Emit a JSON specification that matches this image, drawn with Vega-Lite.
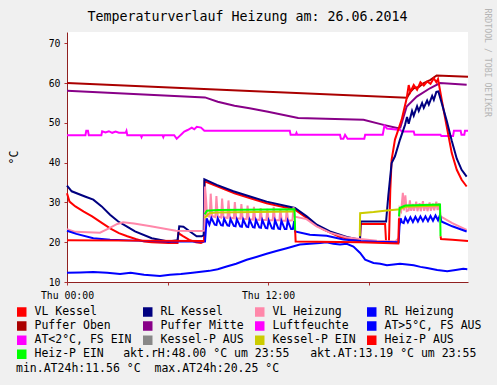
{
"$schema":"https://vega.github.io/schema/vega-lite/v6.json",
"width":401,"height":250,
"autosize":{"type":"none"},
"padding":{"left":67,"top":32,"right":29,"bottom":103},
"background":"#f0f0f0",
"title":{"text":"Temperaturverlauf Heizung am: 26.06.2014","font":"DejaVu Sans Mono","fontSize":13.3,"fontWeight":"normal","color":"#000000","anchor":"middle","frame":"group","dx":-20,"offset":-15},
"config":{"view":{"fill":"white","stroke":null},"line":{"strokeWidth":2}},
"data":{"values":[
{"s":"AT>5°C, FS AUS","g":"1","h":0,"v":12.3},{"s":"AT>5°C, FS AUS","g":"1","h":0.8,"v":12.4},{"s":"AT>5°C, FS AUS","g":"1","h":1.57,"v":12.5},{"s":"AT>5°C, FS AUS","g":"1","h":2.4,"v":12.3},{"s":"AT>5°C, FS AUS","g":"1","h":3.17,"v":12.0},{"s":"AT>5°C, FS AUS","g":"1","h":3.8,"v":12.3},{"s":"AT>5°C, FS AUS","g":"1","h":4.6,"v":11.8},{"s":"AT>5°C, FS AUS","g":"1","h":5.55,"v":11.5},{"s":"AT>5°C, FS AUS","g":"1","h":6.15,"v":11.8},{"s":"AT>5°C, FS AUS","g":"1","h":6.8,"v":12.0},{"s":"AT>5°C, FS AUS","g":"1","h":7.5,"v":12.3},{"s":"AT>5°C, FS AUS","g":"1","h":8.5,"v":12.8},{"s":"AT>5°C, FS AUS","g":"1","h":9.0,"v":13.2},{"s":"AT>5°C, FS AUS","g":"1","h":9.53,"v":13.9},{"s":"AT>5°C, FS AUS","g":"1","h":10.1,"v":14.6},{"s":"AT>5°C, FS AUS","g":"1","h":10.73,"v":15.6},{"s":"AT>5°C, FS AUS","g":"1","h":11.3,"v":16.3},{"s":"AT>5°C, FS AUS","g":"1","h":11.92,"v":17.1},{"s":"AT>5°C, FS AUS","g":"1","h":12.5,"v":17.8},{"s":"AT>5°C, FS AUS","g":"1","h":13.12,"v":18.5},{"s":"AT>5°C, FS AUS","g":"1","h":13.9,"v":19.4},{"s":"AT>5°C, FS AUS","g":"1","h":14.5,"v":19.6},{"s":"AT>5°C, FS AUS","g":"1","h":15.1,"v":19.8},{"s":"AT>5°C, FS AUS","g":"1","h":15.5,"v":20.0},{"s":"AT>5°C, FS AUS","g":"1","h":15.9,"v":19.6},{"s":"AT>5°C, FS AUS","g":"1","h":16.3,"v":19.4},{"s":"AT>5°C, FS AUS","g":"1","h":16.7,"v":19.6},{"s":"AT>5°C, FS AUS","g":"1","h":17.1,"v":18.9},{"s":"AT>5°C, FS AUS","g":"1","h":17.5,"v":17.3},{"s":"AT>5°C, FS AUS","g":"1","h":17.8,"v":15.6},{"s":"AT>5°C, FS AUS","g":"1","h":18.3,"v":14.8},{"s":"AT>5°C, FS AUS","g":"1","h":18.7,"v":14.6},{"s":"AT>5°C, FS AUS","g":"1","h":19.1,"v":14.2},{"s":"AT>5°C, FS AUS","g":"1","h":19.5,"v":14.4},{"s":"AT>5°C, FS AUS","g":"1","h":19.88,"v":14.6},{"s":"AT>5°C, FS AUS","g":"1","h":20.3,"v":14.4},{"s":"AT>5°C, FS AUS","g":"1","h":20.7,"v":14.2},{"s":"AT>5°C, FS AUS","g":"1","h":21.1,"v":13.8},{"s":"AT>5°C, FS AUS","g":"1","h":21.5,"v":13.5},{"s":"AT>5°C, FS AUS","g":"1","h":22.1,"v":13.0},{"s":"AT>5°C, FS AUS","g":"1","h":22.7,"v":12.7},{"s":"AT>5°C, FS AUS","g":"1","h":23.2,"v":13.0},{"s":"AT>5°C, FS AUS","g":"1","h":23.66,"v":13.3},{"s":"AT>5°C, FS AUS","g":"1","h":23.9,"v":13.2},

{"s":"Puffer Oben","g":"1","h":0,"v":60.0},{"s":"Puffer Oben","g":"1","h":10.9,"v":58.0},{"s":"Puffer Oben","g":"1","h":20.3,"v":56.3},{"s":"Puffer Oben","g":"1","h":20.5,"v":57.8},{"s":"Puffer Oben","g":"1","h":20.7,"v":58.7},{"s":"Puffer Oben","g":"1","h":21.0,"v":59.0},{"s":"Puffer Oben","g":"1","h":21.3,"v":60.0},{"s":"Puffer Oben","g":"1","h":21.7,"v":60.8},{"s":"Puffer Oben","g":"1","h":22.07,"v":61.9},{"s":"Puffer Oben","g":"1","h":23.94,"v":61.6},

{"s":"Puffer Mitte","g":"1","h":0,"v":58.1},{"s":"Puffer Mitte","g":"1","h":8.24,"v":56.4},{"s":"Puffer Mitte","g":"1","h":9.0,"v":55.3},{"s":"Puffer Mitte","g":"1","h":10.0,"v":54.3},{"s":"Puffer Mitte","g":"1","h":10.9,"v":53.7},{"s":"Puffer Mitte","g":"1","h":12.0,"v":52.8},{"s":"Puffer Mitte","g":"1","h":13.8,"v":51.2},{"s":"Puffer Mitte","g":"1","h":16.0,"v":51.0},{"s":"Puffer Mitte","g":"1","h":17.7,"v":50.8},{"s":"Puffer Mitte","g":"1","h":18.9,"v":49.5},{"s":"Puffer Mitte","g":"1","h":19.7,"v":48.7},{"s":"Puffer Mitte","g":"1","h":19.9,"v":48.8},{"s":"Puffer Mitte","g":"1","h":20.28,"v":54.1},{"s":"Puffer Mitte","g":"1","h":20.88,"v":56.6},{"s":"Puffer Mitte","g":"1","h":21.67,"v":58.7},{"s":"Puffer Mitte","g":"1","h":22.27,"v":60.0},{"s":"Puffer Mitte","g":"1","h":23.86,"v":59.6},

{"s":"Luftfeuchte","g":"1","h":0,"v":46.9},{"s":"Luftfeuchte","g":"1","h":1.1,"v":46.9},{"s":"Luftfeuchte","g":"1","h":1.15,"v":48.0},{"s":"Luftfeuchte","g":"1","h":1.25,"v":48.0},{"s":"Luftfeuchte","g":"1","h":1.3,"v":46.9},{"s":"Luftfeuchte","g":"1","h":2.05,"v":46.9},{"s":"Luftfeuchte","g":"1","h":2.1,"v":47.9},{"s":"Luftfeuchte","g":"1","h":2.3,"v":47.6},{"s":"Luftfeuchte","g":"1","h":2.5,"v":47.9},{"s":"Luftfeuchte","g":"1","h":2.7,"v":47.5},{"s":"Luftfeuchte","g":"1","h":2.9,"v":47.8},{"s":"Luftfeuchte","g":"1","h":3.1,"v":47.5},{"s":"Luftfeuchte","g":"1","h":3.5,"v":47.5},{"s":"Luftfeuchte","g":"1","h":3.55,"v":48.0},{"s":"Luftfeuchte","g":"1","h":3.6,"v":46.9},{"s":"Luftfeuchte","g":"1","h":4.4,"v":46.9},{"s":"Luftfeuchte","g":"1","h":4.45,"v":46.4},{"s":"Luftfeuchte","g":"1","h":4.5,"v":46.9},{"s":"Luftfeuchte","g":"1","h":5.7,"v":46.9},{"s":"Luftfeuchte","g":"1","h":5.75,"v":46.4},{"s":"Luftfeuchte","g":"1","h":5.8,"v":46.9},{"s":"Luftfeuchte","g":"1","h":6.4,"v":46.9},{"s":"Luftfeuchte","g":"1","h":6.55,"v":46.0},{"s":"Luftfeuchte","g":"1","h":6.7,"v":46.6},{"s":"Luftfeuchte","g":"1","h":6.85,"v":47.2},{"s":"Luftfeuchte","g":"1","h":7.0,"v":47.8},{"s":"Luftfeuchte","g":"1","h":7.2,"v":48.2},{"s":"Luftfeuchte","g":"1","h":7.45,"v":48.8},{"s":"Luftfeuchte","g":"1","h":7.6,"v":48.4},{"s":"Luftfeuchte","g":"1","h":7.75,"v":49.0},{"s":"Luftfeuchte","g":"1","h":8.0,"v":48.8},{"s":"Luftfeuchte","g":"1","h":8.2,"v":48.0},{"s":"Luftfeuchte","g":"1","h":13.3,"v":48.0},{"s":"Luftfeuchte","g":"1","h":13.35,"v":47.0},{"s":"Luftfeuchte","g":"1","h":13.65,"v":47.0},{"s":"Luftfeuchte","g":"1","h":13.7,"v":47.5},{"s":"Luftfeuchte","g":"1","h":13.75,"v":47.0},{"s":"Luftfeuchte","g":"1","h":16.3,"v":47.0},{"s":"Luftfeuchte","g":"1","h":16.35,"v":46.0},{"s":"Luftfeuchte","g":"1","h":16.5,"v":46.0},{"s":"Luftfeuchte","g":"1","h":16.6,"v":47.0},{"s":"Luftfeuchte","g":"1","h":16.75,"v":46.0},{"s":"Luftfeuchte","g":"1","h":17.75,"v":46.0},{"s":"Luftfeuchte","g":"1","h":17.8,"v":47.0},{"s":"Luftfeuchte","g":"1","h":18.85,"v":47.0},{"s":"Luftfeuchte","g":"1","h":18.95,"v":49.3},{"s":"Luftfeuchte","g":"1","h":19.1,"v":48.6},{"s":"Luftfeuchte","g":"1","h":19.9,"v":48.2},{"s":"Luftfeuchte","g":"1","h":20.0,"v":47.8},{"s":"Luftfeuchte","g":"1","h":20.7,"v":47.8},{"s":"Luftfeuchte","g":"1","h":20.75,"v":47.0},{"s":"Luftfeuchte","g":"1","h":22.3,"v":47.0},{"s":"Luftfeuchte","g":"1","h":22.35,"v":46.7},{"s":"Luftfeuchte","g":"1","h":23.05,"v":46.7},{"s":"Luftfeuchte","g":"1","h":23.1,"v":48.0},{"s":"Luftfeuchte","g":"1","h":23.5,"v":48.0},{"s":"Luftfeuchte","g":"1","h":23.55,"v":47.0},{"s":"Luftfeuchte","g":"1","h":23.72,"v":47.0},{"s":"Luftfeuchte","g":"1","h":23.76,"v":48.0},{"s":"Luftfeuchte","g":"1","h":23.94,"v":48.0},

{"s":"VL Kessel","g":"1","h":0,"v":32.3},{"s":"VL Kessel","g":"1","h":0.15,"v":30.2},{"s":"VL Kessel","g":"1","h":0.5,"v":29.0},{"s":"VL Kessel","g":"1","h":1.0,"v":27.7},{"s":"VL Kessel","g":"1","h":1.5,"v":26.5},{"s":"VL Kessel","g":"1","h":2.1,"v":24.8},{"s":"VL Kessel","g":"1","h":2.6,"v":23.4},{"s":"VL Kessel","g":"1","h":3.1,"v":22.3},{"s":"VL Kessel","g":"1","h":3.6,"v":21.5},{"s":"VL Kessel","g":"1","h":4.1,"v":20.8},{"s":"VL Kessel","g":"1","h":4.6,"v":20.2},{"s":"VL Kessel","g":"1","h":5.05,"v":20.0},{"s":"VL Kessel","g":"1","h":6.05,"v":19.8},{"s":"VL Kessel","g":"1","h":6.6,"v":19.8},{"s":"VL Kessel","g":"1","h":6.65,"v":22.3},{"s":"VL Kessel","g":"1","h":6.9,"v":21.6},{"s":"VL Kessel","g":"1","h":7.3,"v":20.6},{"s":"VL Kessel","g":"1","h":7.7,"v":20.0},{"s":"VL Kessel","g":"1","h":8.0,"v":19.8},{"s":"VL Kessel","g":"1","h":8.18,"v":20.2},{"s":"VL Kessel","g":"1","h":8.22,"v":35.3},{"s":"VL Kessel","g":"1","h":9.0,"v":34.0},{"s":"VL Kessel","g":"1","h":10.0,"v":32.3},{"s":"VL Kessel","g":"1","h":10.9,"v":31.1},{"s":"VL Kessel","g":"1","h":11.92,"v":29.8},{"s":"VL Kessel","g":"1","h":13.61,"v":28.2},{"s":"VL Kessel","g":"1","h":14.31,"v":26.1},{"s":"VL Kessel","g":"1","h":15.3,"v":23.2},{"s":"VL Kessel","g":"1","h":16.3,"v":21.3},{"s":"VL Kessel","g":"1","h":17.49,"v":20.2},{"s":"VL Kessel","g":"1","h":17.53,"v":24.6},{"s":"VL Kessel","g":"1","h":18.99,"v":24.6},{"s":"VL Kessel","g":"1","h":19.05,"v":20.0},{"s":"VL Kessel","g":"1","h":19.22,"v":20.0},{"s":"VL Kessel","g":"1","h":19.3,"v":33.0},{"s":"VL Kessel","g":"1","h":19.38,"v":40.7},{"s":"VL Kessel","g":"1","h":19.58,"v":45.8},{"s":"VL Kessel","g":"1","h":19.78,"v":48.3},{"s":"VL Kessel","g":"1","h":19.98,"v":50.8},{"s":"VL Kessel","g":"1","h":20.28,"v":56.2},{"s":"VL Kessel","g":"1","h":20.4,"v":59.5},{"s":"VL Kessel","g":"1","h":20.5,"v":57.8},{"s":"VL Kessel","g":"1","h":20.7,"v":59.5},{"s":"VL Kessel","g":"1","h":20.9,"v":58.3},{"s":"VL Kessel","g":"1","h":21.1,"v":60.2},{"s":"VL Kessel","g":"1","h":21.3,"v":59.4},{"s":"VL Kessel","g":"1","h":21.5,"v":60.4},{"s":"VL Kessel","g":"1","h":21.7,"v":59.8},{"s":"VL Kessel","g":"1","h":21.9,"v":61.2},{"s":"VL Kessel","g":"1","h":22.05,"v":60.2},{"s":"VL Kessel","g":"1","h":22.15,"v":61.0},{"s":"VL Kessel","g":"1","h":22.37,"v":55.8},{"s":"VL Kessel","g":"1","h":22.67,"v":49.1},{"s":"VL Kessel","g":"1","h":22.97,"v":42.4},{"s":"VL Kessel","g":"1","h":23.27,"v":38.2},{"s":"VL Kessel","g":"1","h":23.56,"v":35.7},{"s":"VL Kessel","g":"1","h":23.86,"v":34.0},

{"s":"RL Kessel","g":"1","h":0,"v":34.2},{"s":"RL Kessel","g":"1","h":0.28,"v":32.8},{"s":"RL Kessel","g":"1","h":1.07,"v":31.5},{"s":"RL Kessel","g":"1","h":1.57,"v":30.7},{"s":"RL Kessel","g":"1","h":2.07,"v":29.0},{"s":"RL Kessel","g":"1","h":2.57,"v":26.9},{"s":"RL Kessel","g":"1","h":3.06,"v":25.2},{"s":"RL Kessel","g":"1","h":3.56,"v":24.0},{"s":"RL Kessel","g":"1","h":4.06,"v":22.7},{"s":"RL Kessel","g":"1","h":5.06,"v":21.0},{"s":"RL Kessel","g":"1","h":6.05,"v":20.2},{"s":"RL Kessel","g":"1","h":6.6,"v":20.5},{"s":"RL Kessel","g":"1","h":6.7,"v":24.0},{"s":"RL Kessel","g":"1","h":6.95,"v":23.9},{"s":"RL Kessel","g":"1","h":7.34,"v":22.7},{"s":"RL Kessel","g":"1","h":7.74,"v":21.5},{"s":"RL Kessel","g":"1","h":8.04,"v":21.5},{"s":"RL Kessel","g":"1","h":8.16,"v":21.8},{"s":"RL Kessel","g":"1","h":8.2,"v":35.8},{"s":"RL Kessel","g":"1","h":8.94,"v":34.4},{"s":"RL Kessel","g":"1","h":9.93,"v":32.8},{"s":"RL Kessel","g":"1","h":10.93,"v":31.5},{"s":"RL Kessel","g":"1","h":11.92,"v":30.2},{"s":"RL Kessel","g":"1","h":13.61,"v":28.6},{"s":"RL Kessel","g":"1","h":14.31,"v":26.5},{"s":"RL Kessel","g":"1","h":14.91,"v":24.4},{"s":"RL Kessel","g":"1","h":15.7,"v":22.7},{"s":"RL Kessel","g":"1","h":16.7,"v":21.3},{"s":"RL Kessel","g":"1","h":17.49,"v":20.6},{"s":"RL Kessel","g":"1","h":17.53,"v":25.2},{"s":"RL Kessel","g":"1","h":19.05,"v":25.2},{"s":"RL Kessel","g":"1","h":19.18,"v":31.6},{"s":"RL Kessel","g":"1","h":19.38,"v":39.9},{"s":"RL Kessel","g":"1","h":19.58,"v":41.6},{"s":"RL Kessel","g":"1","h":19.88,"v":45.8},{"s":"RL Kessel","g":"1","h":20.18,"v":49.5},{"s":"RL Kessel","g":"1","h":20.3,"v":51.5},{"s":"RL Kessel","g":"1","h":20.4,"v":49.8},{"s":"RL Kessel","g":"1","h":20.6,"v":53.0},{"s":"RL Kessel","g":"1","h":20.7,"v":51.8},{"s":"RL Kessel","g":"1","h":20.9,"v":54.2},{"s":"RL Kessel","g":"1","h":21.0,"v":53.0},{"s":"RL Kessel","g":"1","h":21.2,"v":55.0},{"s":"RL Kessel","g":"1","h":21.3,"v":53.8},{"s":"RL Kessel","g":"1","h":21.5,"v":55.6},{"s":"RL Kessel","g":"1","h":21.6,"v":54.6},{"s":"RL Kessel","g":"1","h":21.8,"v":56.8},{"s":"RL Kessel","g":"1","h":21.9,"v":55.8},{"s":"RL Kessel","g":"1","h":22.05,"v":57.8},{"s":"RL Kessel","g":"1","h":22.17,"v":57.9},{"s":"RL Kessel","g":"1","h":22.37,"v":55.0},{"s":"RL Kessel","g":"1","h":22.67,"v":50.5},{"s":"RL Kessel","g":"1","h":22.97,"v":45.5},{"s":"RL Kessel","g":"1","h":23.27,"v":41.0},{"s":"RL Kessel","g":"1","h":23.56,"v":38.2},{"s":"RL Kessel","g":"1","h":23.86,"v":36.5},

{"s":"VL Heizung","g":"1","h":0,"v":23.3},{"s":"VL Heizung","g":"1","h":0.5,"v":22.6},{"s":"VL Heizung","g":"1","h":1.97,"v":22.4},{"s":"VL Heizung","g":"1","h":2.5,"v":23.5},{"s":"VL Heizung","g":"1","h":3.0,"v":24.6},{"s":"VL Heizung","g":"1","h":3.35,"v":25.0},{"s":"VL Heizung","g":"1","h":4.0,"v":24.7},{"s":"VL Heizung","g":"1","h":5.0,"v":24.0},{"s":"VL Heizung","g":"1","h":6.5,"v":22.9},{"s":"VL Heizung","g":"1","h":8.0,"v":22.8},{"s":"VL Heizung","g":"1","h":8.2,"v":22.9},{"s":"VL Heizung","g":"1","h":8.24,"v":34.0},{"s":"VL Heizung","g":"1","h":8.3,"v":31.0},{"s":"VL Heizung","g":"1","h":8.36,"v":26.6},{"s":"VL Heizung","g":"1","h":8.52,"v":26.4},{"s":"VL Heizung","g":"1","h":8.58,"v":32.2},{"s":"VL Heizung","g":"1","h":8.66,"v":26.6},{"s":"VL Heizung","g":"1","h":8.86,"v":26.3},{"s":"VL Heizung","g":"1","h":8.92,"v":31.6},{"s":"VL Heizung","g":"1","h":9.0,"v":26.5},{"s":"VL Heizung","g":"1","h":9.2,"v":26.2},{"s":"VL Heizung","g":"1","h":9.26,"v":31.0},{"s":"VL Heizung","g":"1","h":9.34,"v":26.3},{"s":"VL Heizung","g":"1","h":9.58,"v":26.1},{"s":"VL Heizung","g":"1","h":9.64,"v":30.5},{"s":"VL Heizung","g":"1","h":9.72,"v":26.2},{"s":"VL Heizung","g":"1","h":9.96,"v":26.0},{"s":"VL Heizung","g":"1","h":10.02,"v":30.1},{"s":"VL Heizung","g":"1","h":10.1,"v":26.0},{"s":"VL Heizung","g":"1","h":10.35,"v":25.9},{"s":"VL Heizung","g":"1","h":10.41,"v":29.6},{"s":"VL Heizung","g":"1","h":10.49,"v":25.9},{"s":"VL Heizung","g":"1","h":10.72,"v":25.8},{"s":"VL Heizung","g":"1","h":10.78,"v":29.2},{"s":"VL Heizung","g":"1","h":10.86,"v":25.8},{"s":"VL Heizung","g":"1","h":11.1,"v":25.7},{"s":"VL Heizung","g":"1","h":11.16,"v":28.9},{"s":"VL Heizung","g":"1","h":11.24,"v":25.7},{"s":"VL Heizung","g":"1","h":11.5,"v":25.6},{"s":"VL Heizung","g":"1","h":11.56,"v":28.6},{"s":"VL Heizung","g":"1","h":11.64,"v":25.6},{"s":"VL Heizung","g":"1","h":11.9,"v":25.6},{"s":"VL Heizung","g":"1","h":11.96,"v":28.4},{"s":"VL Heizung","g":"1","h":12.04,"v":25.5},{"s":"VL Heizung","g":"1","h":12.28,"v":25.5},{"s":"VL Heizung","g":"1","h":12.34,"v":28.9},{"s":"VL Heizung","g":"1","h":12.42,"v":25.5},{"s":"VL Heizung","g":"1","h":12.68,"v":25.5},{"s":"VL Heizung","g":"1","h":12.74,"v":28.3},{"s":"VL Heizung","g":"1","h":12.82,"v":25.4},{"s":"VL Heizung","g":"1","h":13.06,"v":25.4},{"s":"VL Heizung","g":"1","h":13.12,"v":28.5},{"s":"VL Heizung","g":"1","h":13.2,"v":25.4},{"s":"VL Heizung","g":"1","h":13.46,"v":25.5},{"s":"VL Heizung","g":"1","h":13.52,"v":28.8},{"s":"VL Heizung","g":"1","h":13.6,"v":26.4},{"s":"VL Heizung","g":"1","h":14.3,"v":25.8},{"s":"VL Heizung","g":"1","h":14.9,"v":24.0},{"s":"VL Heizung","g":"1","h":15.7,"v":22.4},{"s":"VL Heizung","g":"1","h":16.7,"v":21.2},{"s":"VL Heizung","g":"1","h":17.5,"v":20.8},{"s":"VL Heizung","g":"1","h":18.5,"v":20.4},{"s":"VL Heizung","g":"1","h":19.6,"v":20.2},{"s":"VL Heizung","g":"1","h":19.8,"v":21.0},{"s":"VL Heizung","g":"1","h":19.86,"v":28.5},{"s":"VL Heizung","g":"1","h":19.95,"v":27.8},{"s":"VL Heizung","g":"1","h":20.05,"v":32.4},{"s":"VL Heizung","g":"1","h":20.12,"v":28.0},{"s":"VL Heizung","g":"1","h":20.2,"v":31.8},{"s":"VL Heizung","g":"1","h":20.28,"v":27.8},{"s":"VL Heizung","g":"1","h":20.4,"v":28.0},{"s":"VL Heizung","g":"1","h":20.47,"v":30.5},{"s":"VL Heizung","g":"1","h":20.55,"v":27.9},{"s":"VL Heizung","g":"1","h":20.65,"v":29.6},{"s":"VL Heizung","g":"1","h":20.72,"v":27.9},{"s":"VL Heizung","g":"1","h":20.85,"v":30.2},{"s":"VL Heizung","g":"1","h":20.92,"v":27.8},{"s":"VL Heizung","g":"1","h":21.05,"v":29.8},{"s":"VL Heizung","g":"1","h":21.12,"v":27.8},{"s":"VL Heizung","g":"1","h":21.25,"v":30.3},{"s":"VL Heizung","g":"1","h":21.32,"v":27.9},{"s":"VL Heizung","g":"1","h":21.45,"v":29.6},{"s":"VL Heizung","g":"1","h":21.52,"v":27.8},{"s":"VL Heizung","g":"1","h":21.65,"v":30.0},{"s":"VL Heizung","g":"1","h":21.72,"v":27.9},{"s":"VL Heizung","g":"1","h":21.85,"v":29.7},{"s":"VL Heizung","g":"1","h":21.92,"v":28.0},{"s":"VL Heizung","g":"1","h":22.05,"v":30.2},{"s":"VL Heizung","g":"1","h":22.12,"v":28.1},{"s":"VL Heizung","g":"1","h":22.22,"v":29.8},{"s":"VL Heizung","g":"1","h":22.3,"v":26.5},{"s":"VL Heizung","g":"1","h":23.0,"v":24.8},{"s":"VL Heizung","g":"1","h":23.86,"v":23.1},

{"s":"RL Heizung","g":"1","h":0,"v":22.9},{"s":"RL Heizung","g":"1","h":0.56,"v":22.1},{"s":"RL Heizung","g":"1","h":1.57,"v":21.0},{"s":"RL Heizung","g":"1","h":2.57,"v":20.6},{"s":"RL Heizung","g":"1","h":4.06,"v":20.4},{"s":"RL Heizung","g":"1","h":6.05,"v":20.2},{"s":"RL Heizung","g":"1","h":8.24,"v":20.2},{"s":"RL Heizung","g":"1","h":8.28,"v":22.5},{"s":"RL Heizung","g":"1","h":8.34,"v":26.0},{"s":"RL Heizung","g":"1","h":8.5,"v":24.4},{"s":"RL Heizung","g":"1","h":8.62,"v":26.1},{"s":"RL Heizung","g":"1","h":8.82,"v":24.4},{"s":"RL Heizung","g":"1","h":8.92,"v":24.3},{"s":"RL Heizung","g":"1","h":9.0,"v":26.0},{"s":"RL Heizung","g":"1","h":9.2,"v":24.3},{"s":"RL Heizung","g":"1","h":9.3,"v":24.2},{"s":"RL Heizung","g":"1","h":9.38,"v":25.9},{"s":"RL Heizung","g":"1","h":9.58,"v":24.2},{"s":"RL Heizung","g":"1","h":9.68,"v":24.1},{"s":"RL Heizung","g":"1","h":9.76,"v":25.8},{"s":"RL Heizung","g":"1","h":9.96,"v":24.1},{"s":"RL Heizung","g":"1","h":10.06,"v":24.0},{"s":"RL Heizung","g":"1","h":10.14,"v":25.8},{"s":"RL Heizung","g":"1","h":10.34,"v":24.0},{"s":"RL Heizung","g":"1","h":10.44,"v":23.9},{"s":"RL Heizung","g":"1","h":10.52,"v":25.7},{"s":"RL Heizung","g":"1","h":10.72,"v":23.9},{"s":"RL Heizung","g":"1","h":10.82,"v":23.8},{"s":"RL Heizung","g":"1","h":10.9,"v":25.7},{"s":"RL Heizung","g":"1","h":11.1,"v":23.8},{"s":"RL Heizung","g":"1","h":11.2,"v":23.7},{"s":"RL Heizung","g":"1","h":11.28,"v":25.6},{"s":"RL Heizung","g":"1","h":11.48,"v":23.7},{"s":"RL Heizung","g":"1","h":11.58,"v":23.6},{"s":"RL Heizung","g":"1","h":11.66,"v":25.6},{"s":"RL Heizung","g":"1","h":11.86,"v":23.6},{"s":"RL Heizung","g":"1","h":11.96,"v":23.5},{"s":"RL Heizung","g":"1","h":12.04,"v":25.5},{"s":"RL Heizung","g":"1","h":12.24,"v":23.5},{"s":"RL Heizung","g":"1","h":12.34,"v":23.4},{"s":"RL Heizung","g":"1","h":12.42,"v":25.5},{"s":"RL Heizung","g":"1","h":12.62,"v":23.4},{"s":"RL Heizung","g":"1","h":12.72,"v":23.3},{"s":"RL Heizung","g":"1","h":12.8,"v":25.4},{"s":"RL Heizung","g":"1","h":13.0,"v":23.3},{"s":"RL Heizung","g":"1","h":13.1,"v":23.3},{"s":"RL Heizung","g":"1","h":13.18,"v":25.4},{"s":"RL Heizung","g":"1","h":13.38,"v":23.3},{"s":"RL Heizung","g":"1","h":13.48,"v":23.3},{"s":"RL Heizung","g":"1","h":13.56,"v":25.3},{"s":"RL Heizung","g":"1","h":13.62,"v":22.7},{"s":"RL Heizung","g":"1","h":14.5,"v":21.9},{"s":"RL Heizung","g":"1","h":15.5,"v":21.6},{"s":"RL Heizung","g":"1","h":16.5,"v":20.7},{"s":"RL Heizung","g":"1","h":17.5,"v":20.3},{"s":"RL Heizung","g":"1","h":18.5,"v":20.1},{"s":"RL Heizung","g":"1","h":19.8,"v":20.0},{"s":"RL Heizung","g":"1","h":19.85,"v":24.0},{"s":"RL Heizung","g":"1","h":19.92,"v":26.0},{"s":"RL Heizung","g":"1","h":20.0,"v":25.0},{"s":"RL Heizung","g":"1","h":20.1,"v":24.8},{"s":"RL Heizung","g":"1","h":20.2,"v":26.2},{"s":"RL Heizung","g":"1","h":20.35,"v":25.0},{"s":"RL Heizung","g":"1","h":20.5,"v":26.3},{"s":"RL Heizung","g":"1","h":20.65,"v":25.1},{"s":"RL Heizung","g":"1","h":20.8,"v":26.4},{"s":"RL Heizung","g":"1","h":20.95,"v":25.2},{"s":"RL Heizung","g":"1","h":21.1,"v":26.5},{"s":"RL Heizung","g":"1","h":21.25,"v":25.3},{"s":"RL Heizung","g":"1","h":21.4,"v":26.5},{"s":"RL Heizung","g":"1","h":21.55,"v":25.3},{"s":"RL Heizung","g":"1","h":21.7,"v":26.6},{"s":"RL Heizung","g":"1","h":21.85,"v":25.4},{"s":"RL Heizung","g":"1","h":22.0,"v":26.7},{"s":"RL Heizung","g":"1","h":22.15,"v":25.5},{"s":"RL Heizung","g":"1","h":22.27,"v":26.9},{"s":"RL Heizung","g":"1","h":22.35,"v":25.2},{"s":"RL Heizung","g":"1","h":23.0,"v":24.0},{"s":"RL Heizung","g":"1","h":23.86,"v":22.7},

{"s":"Kessel-P EIN","g":"a","h":8.22,"v":26.1},{"s":"Kessel-P EIN","g":"a","h":8.5,"v":27.3},{"s":"Kessel-P EIN","g":"a","h":9.0,"v":27.5},{"s":"Kessel-P EIN","g":"a","h":13.6,"v":27.7},
{"s":"Kessel-P EIN","g":"b","h":17.48,"v":21.5},{"s":"Kessel-P EIN","g":"b","h":17.5,"v":27.3},{"s":"Kessel-P EIN","g":"b","h":18.3,"v":27.6},{"s":"Kessel-P EIN","g":"b","h":19.1,"v":28.0},{"s":"Kessel-P EIN","g":"b","h":19.88,"v":28.3},{"s":"Kessel-P EIN","g":"b","h":20.2,"v":28.9},{"s":"Kessel-P EIN","g":"b","h":22.25,"v":29.2},

{"s":"Heiz-P AUS","g":"a","h":0,"v":20.5},{"s":"Heiz-P AUS","g":"a","h":4.0,"v":20.4},{"s":"Heiz-P AUS","g":"a","h":8.2,"v":20.3},
{"s":"Heiz-P AUS","g":"b","h":13.62,"v":23.0},{"s":"Heiz-P AUS","g":"b","h":13.65,"v":20.2},{"s":"Heiz-P AUS","g":"b","h":17.5,"v":20.0},{"s":"Heiz-P AUS","g":"b","h":19.78,"v":19.7},{"s":"Heiz-P AUS","g":"b","h":19.82,"v":26.0},
{"s":"Heiz-P AUS","g":"c","h":22.3,"v":21.5},{"s":"Heiz-P AUS","g":"c","h":22.33,"v":20.8},{"s":"Heiz-P AUS","g":"c","h":23.0,"v":20.6},{"s":"Heiz-P AUS","g":"c","h":23.94,"v":20.3},

{"s":"Heiz-P EIN","g":"a","h":8.22,"v":27.0},{"s":"Heiz-P EIN","g":"a","h":8.35,"v":27.9},{"s":"Heiz-P EIN","g":"a","h":9.0,"v":28.1},{"s":"Heiz-P EIN","g":"a","h":13.58,"v":28.3},{"s":"Heiz-P EIN","g":"a","h":13.62,"v":23.0},
{"s":"Heiz-P EIN","g":"b","h":19.82,"v":26.5},{"s":"Heiz-P EIN","g":"b","h":19.86,"v":28.6},{"s":"Heiz-P EIN","g":"b","h":20.2,"v":29.2},{"s":"Heiz-P EIN","g":"b","h":22.27,"v":29.5},{"s":"Heiz-P EIN","g":"b","h":22.3,"v":21.5}
]},
"encoding":{
 "color":{"field":"s","type":"nominal",
  "scale":{"domain":["VL Kessel","RL Kessel","VL Heizung","RL Heizung","Puffer Oben","Puffer Mitte","Luftfeuchte","AT>5°C, FS AUS","AT<2°C, FS EIN","Kessel-P AUS","Kessel-P EIN","Heiz-P AUS","Heiz-P EIN"],
   "range":["#ff0000","#000080","#ff88aa","#0000ff","#aa0000","#880088","#ff00ff","#0000ff","#ff00ff","#888888","#cccc00","#ff0000","#00ff00"]},
  "legend":{"orient":"none","legendX":-51,"legendY":274,"direction":"horizontal","columns":4,"gridAlign":"each","columnPadding":8,"rowPadding":-1.8,
   "symbolType":"square","symbolSize":56,"symbolStrokeColor":"#000000","symbolStrokeWidth":1,"symbolFillColor":{"expr":"scale('color', datum.value)"},"labelOffset":7,
   "labelFont":"DejaVu Sans Mono","labelFontSize":11.5,"labelColor":"#000000","labelLimit":400,
   "title":"min.AT24h:11.56 °C\u00a0\u00a0max.AT24h:20.25 °C",
   "titleOrient":"bottom","titleAnchor":"start","titleAlign":"left","titlePadding":1,"titleFont":"DejaVu Sans Mono","titleFontSize":11.5,"titleFontWeight":"normal","titleColor":"#000000","titleLimit":600,
   "encode":{"symbols":{"fill":{"value":{"expr":"scale('color', datum.value)"}},"stroke":{"value":"#000000"},"strokeWidth":{"value":1},"opacity":{"value":1},"fillOpacity":{"value":1}}}}},
 "detail":{"field":"g"}
},
"layer":[
 {"transform":[{"filter":"datum.s === 'AT>5°C, FS AUS'"}],
  "mark":{"type":"line","strokeWidth":2},
  "encoding":{
   "x":{"field":"h","type":"quantitative","scale":{"domain":[0,23.94],"nice":false,"zero":false},
    "axis":{"orient":"bottom","labels":false,"ticks":false,"domain":false,"grid":false,"title":"akt.rH:48.00 °C um 23:55\u00a0\u00a0\u00a0akt.AT:13.19 °C um 23:55","titleX":55.7,"titleY":71,"titleAlign":"left","titleAnchor":"start","titleBaseline":"middle","titleFont":"DejaVu Sans Mono","titleFontSize":11.5,"titleFontWeight":"normal","titleColor":"#000000","titleLimit":600}},
   "y":{"field":"v","type":"quantitative","scale":{"domain":[10,72.84],"nice":false,"zero":false},
   "axis":{"orient":"right","labels":false,"ticks":false,"domain":false,"grid":false,"title":"RRDTOOL / TOBI OETIKER","titleAngle":90,"titleX":18.5,"titleY":-24,"titleAlign":"left","titleBaseline":"middle","titleFont":"DejaVu Sans Mono","titleFontSize":8.2,"titleFontWeight":"normal","titleColor":"#b4b4b4"}}}},
 {"transform":[{"filter":"datum.s !== 'AT>5°C, FS AUS'"}],
  "mark":{"type":"line","strokeWidth":2},
  "encoding":{
   "x":{"field":"h","type":"quantitative","scale":{"domain":[0,23.94],"nice":false,"zero":false},
    "axis":{"orient":"bottom","title":null,"values":[0,1,2,3,4,5,6,7,8,9,10,11,12,13,14,15,16,17,18,19,20,21,22,23],
     "labelExpr":"datum.value === 0 ? 'Thu 00:00' : (datum.value === 12 ? 'Thu 12:00' : '')",
     "labelFont":"DejaVu Sans Mono","labelFontSize":9.8,"labelColor":"#000000","labelPadding":5,"labelOverlap":false,"labelFlush":false,
     "tickSize":3,"tickColor":{"condition":{"test":"datum.value % 6 === 0","value":"#b03030"},"value":"transparent"},
     "gridColor":{"condition":{"test":"datum.value % 6 === 0","value":"#f2a6a6"},"value":"#dcdcdc"},"gridOpacity":1,
     "domainColor":"#902020","domainWidth":1}},
   "y":{"field":"v","type":"quantitative","scale":{"domain":[10,72.84],"nice":false,"zero":false},
   "axis":{"orient":"left","values":[10,12,14,16,18,20,22,24,26,28,30,32,34,36,38,40,42,44,46,48,50,52,54,56,58,60,62,64,66,68,70,72],
    "labelExpr":"datum.value % 10 === 0 ? datum.label : ''","labelFont":"DejaVu Sans Mono","labelFontSize":9.8,"labelColor":"#000000","labelPadding":4,
    "tickSize":3,"tickColor":{"condition":{"test":"datum.value % 10 === 0","value":"#b03030"},"value":"transparent"},
    "gridColor":{"condition":{"test":"datum.value % 10 === 0","value":"#f2a6a6"},"value":"#dcdcdc"},"gridOpacity":1,
    "domainColor":"#902020","domainWidth":1,
    "title":"°C","titleFont":"DejaVu Sans Mono","titleFontSize":11.5,"titleFontWeight":"normal","titleColor":"#000000","titleX":-53,"titleY":125,"titleAngle":-90,"titleAlign":"center","titleBaseline":"middle"}}}}
],
"resolve":{"axis":{"x":"independent","y":"independent"}}
}
